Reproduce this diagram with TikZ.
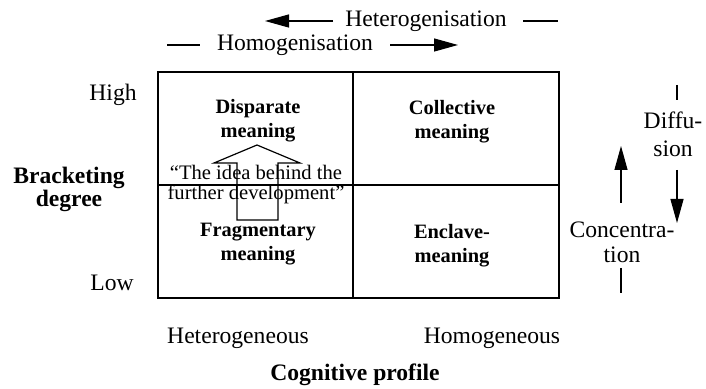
\documentclass[tikz,border=0pt]{standalone}
\usepackage{fontspec}
\setmainfont{Liberation Serif}
\usetikzlibrary{arrows.meta}

\tikzset{
  lbl/.style={align=center, inner sep=0pt, font=\fontsize{11.8}{12.5}\selectfont},
  cell/.style={align=center, inner sep=0pt, font=\fontsize{10.2}{12}\selectfont\bfseries},
  quote/.style={align=center, inner sep=0pt, font=\fontsize{10.3}{10}\selectfont},
  arr/.style={-{Triangle[length=12pt,width=6.5pt]}, line width=0.6pt},
  tick/.style={line width=0.6pt}
}

\begin{document}
\begin{tikzpicture}[x=0.5pt, y=-0.5pt]
    \useasboundingbox (0,0) rectangle (706,389);

    % Matrix
    \draw[line width=0.8pt] (158,72) rectangle (559,298);
    \draw[line width=0.8pt] (353,72) -- (353,298);
    \draw[line width=0.8pt] (158,185) -- (559,185);

    % Hollow arrow (development)
    \draw[line width=0.6pt] (237,220) -- (237,163) -- (214,163) -- (257,145)
        -- (300,163) -- (278,163) -- (278,220) -- cycle;

    % Cells
    \node[cell] (disp) at (258,121) {Disparate\\meaning};
    \node[cell] (coll) at (452,122) {Collective\\meaning};
    \node[cell] (frag) at (258,244) {Fragmentary\\meaning};
    \node[cell] (encl) at (452,246) {Enclave-\\meaning};
    \node[quote] (idea) at (256,185) {``The idea behind the\\further development''};

    % Top: heterogenisation / homogenisation
    \node[lbl] (het) at (426,21) {Heterogenisation};
    \coordinate (hetA) at (333,21);
    \coordinate (hetB) at (265,21);
    \draw[arr] (hetA) -- (hetB);
    \coordinate (hetC) at (523,21);
    \coordinate (hetD) at (558,21);
    \draw[tick] (hetC) -- (hetD);

    \node[lbl] (hom) at (295,45) {Homogenisation};
    \coordinate (homA) at (167,45);
    \coordinate (homB) at (200,45);
    \draw[tick] (homA) -- (homB);
    \coordinate (homC) at (390,45);
    \coordinate (homD) at (458,45);
    \draw[arr] (homC) -- (homD);

    % Left axis
    \node[lbl] (high) at (113,95) {High};
    \node[lbl] (low) at (112,283) {Low};
    \node[lbl, font=\fontsize{11.8}{11.5}\selectfont\bfseries] (brack) at (69,189) {Bracketing\\degree};

    % Bottom axis
    \node[lbl] (hetg) at (238,338) {Heterogeneous};
    \node[lbl] (homg) at (492,338) {Homogeneous};
    \node[lbl, font=\fontsize{11.8}{12.5}\selectfont\bfseries] (cogn) at (355,375) {Cognitive profile};

    % Right: diffusion / concentration
    \node[lbl, font=\fontsize{11.8}{14}\selectfont] (diff) at (673,134) {Diffu-\\sion};
    \coordinate (difA) at (677,85);
    \coordinate (difB) at (677,100);
    \draw[tick] (difA) -- (difB);
    \coordinate (difC) at (677,170);
    \coordinate (difD) at (677,223);
    \draw[arr] (difC) -- (difD);

    \node[lbl, font=\fontsize{11.8}{12.5}\selectfont] (conc) at (622,242) {Concentra-\\tion};
    \coordinate (conA) at (621,203);
    \coordinate (conB) at (621,146);
    \draw[arr] (conA) -- (conB);
    \coordinate (conC) at (621,268);
    \coordinate (conD) at (621,293);
    \draw[tick] (conC) -- (conD);
\end{tikzpicture}
\end{document}
